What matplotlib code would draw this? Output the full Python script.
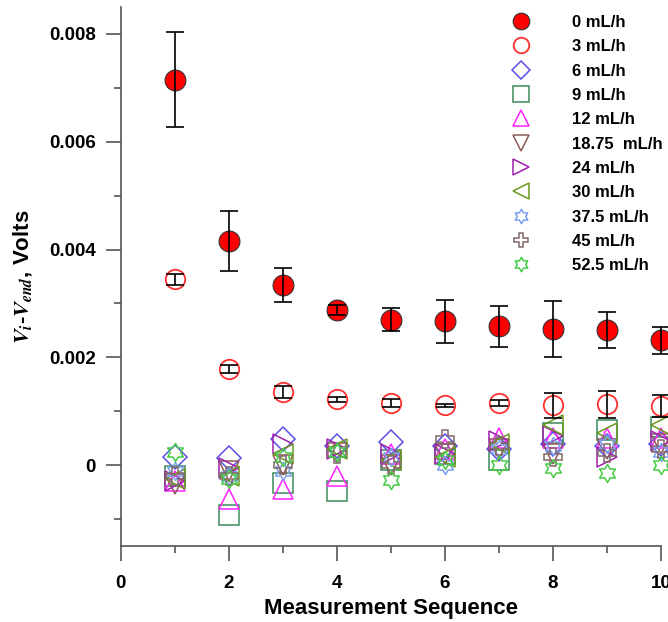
import numpy as np
import matplotlib
matplotlib.use('Agg')
import matplotlib.pyplot as plt
from matplotlib.path import Path
from matplotlib.ticker import MultipleLocator, FuncFormatter

plt.rcParams['font.family'] = ['Liberation Sans', 'DejaVu Sans']
plt.rcParams['font.weight'] = 'bold'
plt.rcParams['mathtext.fontset'] = 'stix'

seq = [1, 2, 3, 4, 5, 6, 7, 8, 9, 10]

v0 = [0.00715, 0.00416, 0.00334, 0.00288, 0.00270, 0.00267, 0.00258, 0.00252, 0.00251, 0.00232]
e0 = [0.00088, 0.00056, 0.00032, 0.00010, 0.00021, 0.00040, 0.00038, 0.00052, 0.00034, 0.00025]
v3 = [0.00345, 0.00178, 0.00135, 0.00122, 0.00115, 0.00111, 0.00115, 0.00111, 0.00113, 0.00110]
e3 = [0.00010, 0.00007, 0.00011, 0.00005, 0.00007, 0.00003, 0.00005, 0.00023, 0.00025, 0.00021]
v6 = [0.00015, 0.00013, 0.00048, 0.00035, 0.00043, 0.00035, 0.00030, 0.00040, 0.00035, 0.00040]
v9 = [-0.00020, -0.00092, -0.00033, -0.00048, 0.00010, 0.00020, 0.00010, 0.00060, 0.00065, 0.00070]
v12 = [-0.00030, -0.00062, -0.00045, -0.00020, 0.00020, 0.00030, 0.00050, 0.00050, 0.00050, 0.00050]
v1875 = [-0.00035, -0.00010, 0.00000, 0.00022, 0.00000, 0.00020, 0.00030, 0.00020, 0.00030, 0.00040]
v24 = [-0.00030, -0.00005, 0.00040, 0.00030, 0.00020, 0.00020, 0.00045, 0.00055, 0.00015, 0.00045]
v30 = [-0.00025, -0.00020, 0.00020, 0.00030, 0.00010, 0.00015, 0.00040, 0.00075, 0.00060, 0.00075]
v375 = [-0.00010, -0.00020, -0.00010, 0.00025, 0.00015, 0.00000, 0.00030, 0.00035, 0.00040, 0.00025]
v45 = [-0.00020, -0.00020, 0.00000, 0.00020, 0.00000, 0.00048, 0.00035, 0.00015, 0.00022, 0.00030]
v525 = [0.00025, -0.00025, 0.00015, 0.00025, -0.00027, 0.00010, 0.00000, -0.00005, -0.00015, 0.00000]

labels = ['0 mL/h', '3 mL/h', '6 mL/h', '9 mL/h', '12 mL/h', '18.75  mL/h',
          '24 mL/h', '30 mL/h', '37.5 mL/h', '45 mL/h', '52.5 mL/h']

# hexagram marker (star of david)
ang = np.deg2rad(90 + 30 * np.arange(12))
rad = np.where(np.arange(12) % 2 == 0, 1.0, 1 / np.sqrt(3))
pts = np.c_[rad * np.cos(ang), rad * np.sin(ang)]
hexagram = Path(np.vstack([pts, pts[:1]]), closed=True)

fig = plt.figure(figsize=(6.68, 6.22), dpi=100)
ax = fig.add_axes([0.181, 0.1222, 0.8085, 0.8665])

series = [
    (v6, 'D', '#5a50e6', 12),
    (v9, 's', '#3a8a5a', 14),
    (v12, '^', '#ff22ff', 14),
    (v1875, 'v', '#8e5a5a', 14),
    (v24, '>', '#a020b0', 14),
    (v30, '<', '#6a9a20', 14),
    (v375, hexagram, '#7aa0f0', 13),
    (v45, 'P', '#806868', 13),
    (v525, hexagram, '#44cc44', 13),
]

h0, = ax.plot(seq, v0, 'o', ms=15, mfc='#ff0000', mec='#333333', mew=0.8,
              ls='none', clip_on=False, zorder=4)
h3, = ax.plot(seq, v3, 'o', ms=14, mfc='none', mec='#ff3030', mew=1.3,
              ls='none', clip_on=False, zorder=4)
handles = [h0, h3]
for vals, mk, col, size in series:
    h, = ax.plot(seq, vals, ls='none', marker=mk, ms=size, mfc='none', mec=col,
                 mew=1.1, clip_on=False, zorder=3)
    handles.append(h)

ax.errorbar(seq, v0, yerr=e0, fmt='none', ecolor='black', elinewidth=1.2,
            capsize=6.5, capthick=1.2, clip_on=False, zorder=5)
ax.errorbar(seq, v3, yerr=e3, fmt='none', ecolor='black', elinewidth=1.2,
            capsize=6.5, capthick=1.2, clip_on=False, zorder=5)

ax.set_xlim(0, 10)
ax.set_ylim(-0.0015, 0.0085)
ax.xaxis.set_major_locator(MultipleLocator(2))
ax.xaxis.set_minor_locator(MultipleLocator(1))
ax.yaxis.set_major_locator(MultipleLocator(0.002))
ax.yaxis.set_minor_locator(MultipleLocator(0.001))
ax.yaxis.set_major_formatter(FuncFormatter(lambda v, p: '0' if abs(v) < 1e-9 else '%.3f' % v))

for s in ['top', 'right']:
    ax.spines[s].set_visible(False)
for s in ['left', 'bottom']:
    ax.spines[s].set_color('#555555')
    ax.spines[s].set_linewidth(1.2)
ax.tick_params(which='major', direction='out', length=11, width=1.2, color='#555555',
               labelsize=13.5, pad=7)
ax.tick_params(axis='x', which='major', pad=10)
ax.tick_params(which='minor', direction='out', length=5, width=1.2, color='#555555')
for t in ax.get_xticklabels() + ax.get_yticklabels():
    t.set_fontweight('bold')

ax.set_xlabel('Measurement Sequence', fontsize=16, fontweight='bold', labelpad=4)
ax.set_ylabel(r'$V_i$-$V_{end}$, Volts', fontsize=16, fontweight='bold')
ax.yaxis.set_label_coords(-0.16, 0.5)

leg = ax.legend(handles, labels, loc='upper left', bbox_to_anchor=(0.695, 1.004),
                frameon=False, fontsize=12, markerscale=0.8, handlelength=1.8,
                handletextpad=2.15, labelspacing=0.56, borderaxespad=0.2)
for t in leg.get_texts():
    t.set_fontweight('bold')

fig.savefig('out.png', dpi=100)
